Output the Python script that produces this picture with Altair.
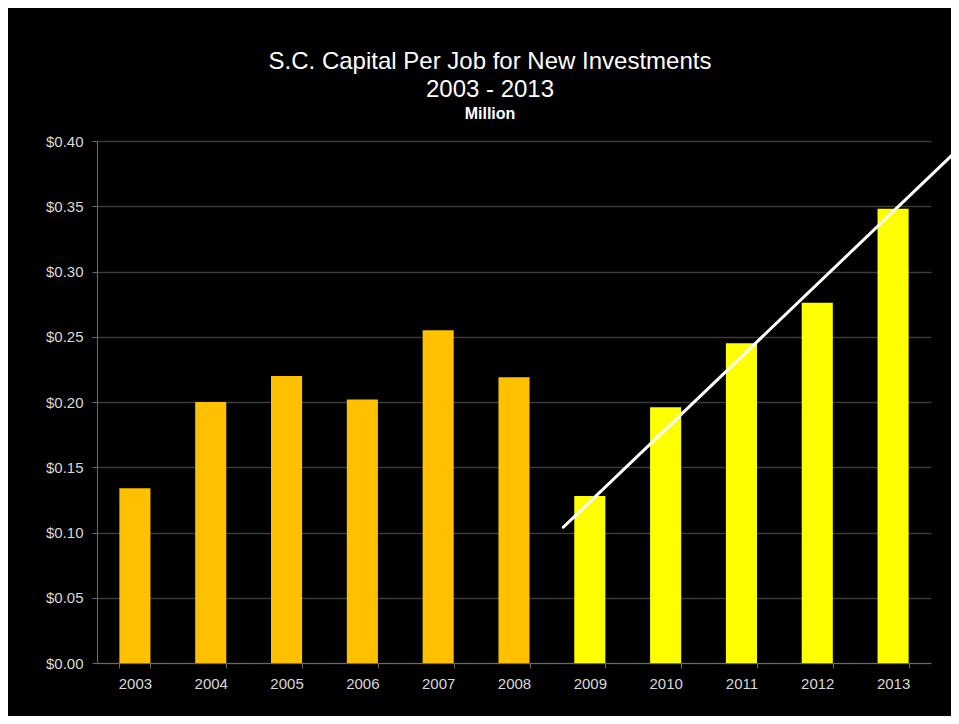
import altair as alt
import pandas as pd

years = ["2003", "2004", "2005", "2006", "2007", "2008", "2009", "2010", "2011", "2012", "2013"]
values = [0.134, 0.200, 0.220, 0.202, 0.255, 0.219, 0.128, 0.196, 0.245, 0.276, 0.348]
groups = ["early"] * 6 + ["late"] * 5

trend_x = [2008.65, 2013.81]
trend_y = [0.104, 0.391]

y_ticks = [0.0, 0.05, 0.10, 0.15, 0.20, 0.25, 0.30, 0.35, 0.40]

bars_df = pd.DataFrame({"year": years, "value": values, "group": groups})
trend_df = pd.DataFrame({"x": trend_x, "y": trend_y})

FONT = "Liberation Sans"
LABEL_COLOR = "#d9d9d9"
AXIS_COLOR = "#6a6a6a"
GRID_COLOR = "#3a3a3a"

y_scale = alt.Scale(domain=[0, 0.4], nice=False, zero=True)
y_axis = alt.Axis(
    title=None,
    values=y_ticks,
    format="$.2f",
    grid=True,
    gridColor=GRID_COLOR,
    gridWidth=1.5,
    domainColor=AXIS_COLOR,
    tickColor=AXIS_COLOR,
    tickSize=5,
    labelPadding=9,
    labelFontSize=15,
    labelColor=LABEL_COLOR,
    labelFont=FONT,
)

bars = alt.Chart(bars_df).mark_bar().encode(
    x=alt.X(
        "year:N",
        sort=years,
        scale=alt.Scale(paddingInner=0.59, paddingOuter=0.295),
        axis=alt.Axis(
            title=None,
            labelAngle=0,
            tickBand="extent",
            grid=False,
            domainColor=AXIS_COLOR,
            tickColor=AXIS_COLOR,
            tickSize=5,
            labelPadding=8,
            labelFontSize=15,
            labelColor=LABEL_COLOR,
            labelFont=FONT,
        ),
    ),
    y=alt.Y("value:Q", scale=y_scale, axis=y_axis),
    color=alt.Color(
        "group:N",
        scale=alt.Scale(domain=["early", "late"], range=["#FFC000", "#FFFF00"]),
        legend=None,
    ),
)

trend = alt.Chart(trend_df).mark_line(color="white", strokeWidth=3, strokeCap="round").encode(
    x=alt.X("x:Q", scale=alt.Scale(domain=[2002.5, 2013.5], nice=False, zero=False), axis=None),
    y=alt.Y("y:Q", scale=y_scale, axis=y_axis),
)

chart = (
    alt.layer(bars, trend)
    .resolve_scale(x="independent")
    .properties(
        width=834,
        height=522,
        background="black",
        autosize=alt.AutoSizeParams(type="none"),
        padding={"left": 89, "top": 133, "right": 20, "bottom": 53},
        title=alt.TitleParams(
            text=["S.C. Capital Per Job for New Investments", "2003 - 2013"],
            subtitle="Million",
            font=FONT,
            fontSize=24,
            fontWeight="normal",
            lineHeight=28,
            color="white",
            subtitleFont=FONT,
            subtitleFontSize=16,
            subtitleFontWeight="bold",
            subtitleColor="white",
            subtitlePadding=4,
            anchor="middle",
            dx=-24,
            offset=12,
        ),
    )
    .configure_view(stroke=None)
)

chart.save("out.html", embed_options={"renderer": "svg", "actions": False})
